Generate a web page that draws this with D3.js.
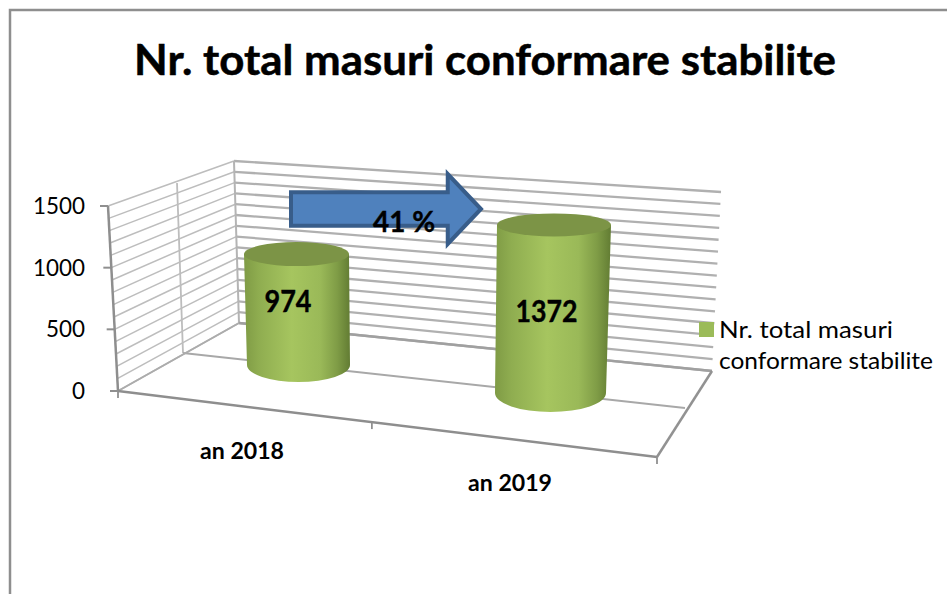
<!DOCTYPE html>
<html><head><meta charset="utf-8">
<script src="https://cdn.jsdelivr.net/npm/d3@7"></script>
<style>html,body{margin:0;padding:0;background:#fff}svg{display:block}text{font-family:Lato,sans-serif;fill:#000}</style>
</head><body><div id="c"></div>
<script>
const title = "Nr. total masuri conformare stabilite";
const categories = ["an 2018", "an 2019"];
const values = [974, 1372];
const legendLines = ["Nr. total masuri", "conformare stabilite"];
const yTicks = [0, 500, 1000, 1500];
const changeLabel = "41 %";

const W = 947, H = 594;
const svg = d3.select("#c").append("svg").attr("width", W).attr("height", H);
const lerp = (a, b, t) => [a[0] + (b[0] - a[0]) * t, a[1] + (b[1] - a[1]) * t];
const line = (g, a, b, col, w) => g.append("line").attr("x1", a[0]).attr("y1", a[1]).attr("x2", b[0]).attr("y2", b[1]).attr("stroke", col).attr("stroke-width", w);

// frame
svg.append("path").attr("d", `M10,${H}V10H${W}`).attr("fill", "none").attr("stroke", "#8e8e8e").attr("stroke-width", 2.5);

// title
svg.append("text").attr("x", 485).attr("y", 74.5).attr("text-anchor", "middle").attr("font-weight", 700)
  .attr("font-size", 42).attr("textLength", 702).attr("lengthAdjust", "spacingAndGlyphs")
  .attr("stroke", "#000").attr("stroke-width", 0.5).text(title);

// 3D box corners
const frontL0 = [118, 391], frontL1 = [108, 206];
const backL0 = [239, 323], backL1 = [234, 161];
const midL0 = [183, 353], midL1 = [177, 183];
const backR0 = [712, 371], backR1 = [721, 192];
const frontR0 = [657, 457], midR0 = [685, 408];

const t = d3.scaleLinear().domain([0, 1500]).range([0, 1]);
const walls = svg.append("g");
d3.range(0, 1501, 100).forEach(v => {
  const k = t(v);
  const fl = lerp(frontL0, frontL1, k), bl = lerp(backL0, backL1, k), br = lerp(backR0, backR1, k);
  line(walls, fl, bl, "#bdbdbd", 1.5);
  line(walls, bl, br, "#b0b0b0", 2.3);
});
line(walls, midL0, midL1, "#bdbdbd", 1.8);
line(walls, backL0, backL1, "#b4b4b4", 2);
line(walls, midL0, midR0, "#a8a8a8", 2);
line(walls, backL0, backR0, "#a0a0a0", 2.3);
line(walls, backR0, frontR0, "#929292", 2.5);
line(walls, frontL0, backL0, "#acacac", 1.8);
line(walls, frontL0, frontL1, "#8e8e8e", 2.5);
line(walls, frontL0, frontR0, "#8e8e8e", 2.5);

// y ticks
yTicks.forEach(v => {
  const p = lerp(frontL0, frontL1, t(v));
  line(walls, [p[0] - 8, p[1]], [p[0], p[1]], "#8f8f8f", 2);
  svg.append("text").attr("x", 85).attr("y", p[1] + 8).attr("text-anchor", "end").attr("font-size", 23)
    .attr("textLength", v >= 1000 ? 52 : v >= 100 ? 39 : 13).attr("lengthAdjust", "spacingAndGlyphs").text(v);
});
// x ticks
[0, 0.471, 1].forEach(k => {
  const p = lerp(frontL0, frontR0, k);
  line(walls, p, [p[0], p[1] + 7], "#8f8f8f", 1.8);
});
// category labels
const labelX = d3.scalePoint().domain(categories).range([242, 510]);
const labelY = d3.scalePoint().domain(categories).range([458.5, 490.5]);
categories.forEach(c => svg.append("text").attr("x", labelX(c)).attr("y", labelY(c)).attr("text-anchor", "middle")
  .attr("font-weight", 700).attr("font-size", 23).attr("textLength", 84).attr("lengthAdjust", "spacingAndGlyphs").text(c));

// cylinders: position along the floor, with perspective grow toward the right
const defs = svg.append("defs");
const grad = defs.append("linearGradient").attr("id", "cyl").attr("x1", 0).attr("x2", 1).attr("y1", 0).attr("y2", 0);
[[0, "#7f9b45"], [0.14, "#8fad50"], [0.45, "#a6c55f"], [0.72, "#9ab958"], [0.88, "#7f9c46"], [1, "#627c33"]]
  .forEach(s => grad.append("stop").attr("offset", s[0]).attr("stop-color", s[1]));
const baseX = d3.scalePoint().domain(categories).range([298.5, 550.5]);
const baseY = d3.scalePoint().domain(categories).range([365, 393]);
const topLean = d3.scalePoint().domain(categories).range([-2, 3.5]);
const pxPerUnit = d3.scalePoint().domain(categories).range([0.1139, 0.1225]);
const rBase = d3.scalePoint().domain(categories).range([51.5, 55.5]);
const rTop = d3.scalePoint().domain(categories).range([52.5, 57]);
const ryBase = d3.scalePoint().domain(categories).range([17, 19]);
const ryTop = d3.scalePoint().domain(categories).range([12, 11.5]);

const arrowLayer = svg.append("g");
const barG = svg.append("g");
categories.forEach((c, i) => {
  const bx = baseX(c), by = baseY(c), tx = bx + topLean(c), ty = by - values[i] * pxPerUnit(c);
  const rb = rBase(c), rt = rTop(c);
  barG.append("path").attr("fill", "url(#cyl)")
    .attr("d", `M${tx - rt},${ty}L${bx - rb},${by}A${rb},${ryBase(c)} 0 0 0 ${bx + rb},${by}L${tx + rt},${ty}Z`);
  barG.append("ellipse").attr("cx", tx).attr("cy", ty).attr("rx", rt).attr("ry", ryTop(c)).attr("fill", "#7c9446");
});

// arrow
const xA = d3.scaleLinear().domain([0, 1]).range([291, 481]);
const yA = d3.scaleLinear().domain([0, 1]).range([174, 244]);
const arrow = [[0, .26], [.825, .26], [.825, 0], [1, .5], [.825, 1], [.825, .74], [0, .74]];
arrowLayer.append("path").attr("d", d3.line().x(d => xA(d[0])).y(d => yA(d[1])).curve(d3.curveLinearClosed)(arrow))
  .attr("fill", "#4f81bd").attr("stroke", "#385d8a").attr("stroke-width", 4).attr("stroke-linejoin", "miter");

// labels
const valX = d3.scalePoint().domain(categories).range([288, 546.5]);
const valY = d3.scalePoint().domain(categories).range([312, 322]);
categories.forEach((c, i) => svg.append("text").attr("x", valX(c)).attr("y", valY(c)).attr("text-anchor", "middle")
  .attr("font-weight", 700).attr("font-size", 30).attr("textLength", i ? 62 : 47).attr("lengthAdjust", "spacingAndGlyphs")
  .attr("stroke", "#000").attr("stroke-width", 0.4).text(values[i]));
svg.append("text").attr("x", 404).attr("y", 232).attr("text-anchor", "middle").attr("font-weight", 700)
  .attr("font-size", 28).attr("textLength", 62).attr("lengthAdjust", "spacingAndGlyphs")
  .attr("stroke", "#000").attr("stroke-width", 0.4).text(changeLabel);

// legend
svg.append("rect").attr("x", 699).attr("y", 322).attr("width", 15).attr("height", 15).attr("fill", "#9bbb59");
const legendW = [174, 214];
legendLines.forEach((s, i) => svg.append("text").attr("x", 719).attr("y", 337.5 + i * 31).attr("font-size", 24)
  .attr("textLength", legendW[i]).attr("lengthAdjust", "spacingAndGlyphs").text(s));
</script></body></html>
